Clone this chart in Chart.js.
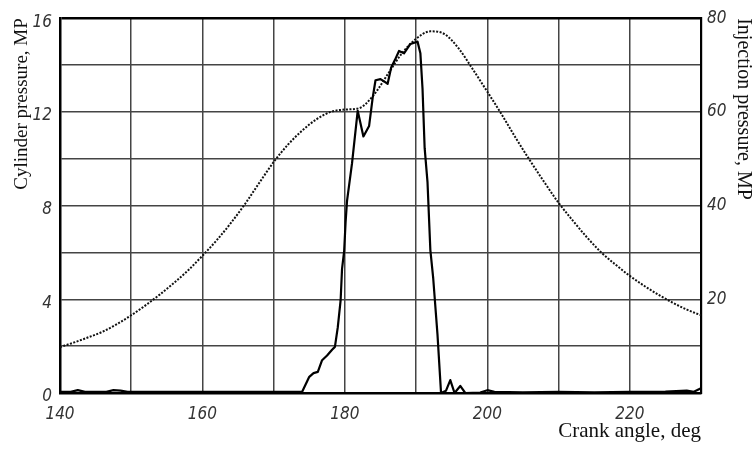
<!DOCTYPE html>
<html>
<head>
<meta charset="utf-8">
<script src="https://cdn.jsdelivr.net/npm/chart.js@4.4.1/dist/chart.umd.min.js"></script>
<style>
  html, body { margin: 0; padding: 0; background: #fff; }
  #wrap { width: 753px; height: 452px; }
</style>
</head>
<body>
<div id="wrap"><canvas id="myChart" width="753" height="452"></canvas></div>
<script>
// injection pressure (dotted curve, right axis)
const injAngle = [140, 142, 144, 146, 148, 150, 152, 154, 156, 158, 160, 162, 164, 166, 168, 170,
    172, 174, 176, 178, 180, 182, 184, 186, 188, 190, 192, 194, 196, 198, 200, 202, 204, 206,
    208, 210, 212, 214, 216, 218, 220, 222, 224, 226, 228, 230]
const injPressure = [9.8, 10.8, 11.9, 13.1, 14.7, 16.6, 18.7, 21.0, 23.5, 26.2, 29.3, 32.6, 36.3, 40.4, 44.9, 49.3,
    53.0, 56.0, 58.4, 60.0, 60.5, 60.8, 63.5, 68.0, 72.5, 75.6, 77.2, 76.6, 73.5, 69.0, 64.3, 59.5, 54.4, 49.6,
    45.0, 40.6, 36.8, 33.2, 30.0, 27.4, 25.0, 22.9, 21.0, 19.3, 17.8, 16.6]

// cylinder pressure (solid curve, left axis)
const cylAngle = [140, 141.5, 142.5, 143.5, 146.5, 147.5, 148.5, 149.5, 174.0, 175.0, 175.6, 176.2, 176.8,
    177.5, 178.2, 178.6, 179.0, 179.4, 179.6, 179.9, 180.1, 180.3, 181.0, 181.8, 182.6, 183.4, 183.9,
    184.3, 185.0, 185.5, 186.0, 186.5, 187.0, 187.6, 188.3, 189.2, 190.2, 190.6, 190.9, 191.2, 191.6,
    192.0, 192.4, 193.0, 193.5, 194.2, 194.8, 195.4, 196.2, 196.9, 199.0, 200.0, 201.0, 205, 210,
    215, 220, 225, 228, 229, 230]
const cylPressure = [0.05, 0.05, 0.12, 0.05, 0.05, 0.12, 0.1, 0.05, 0.05, 0.69, 0.85, 0.9, 1.4,
    1.6, 1.85, 1.97, 2.8, 3.95, 5.3, 6.07, 7.3, 8.2, 9.8, 12.05, 10.95, 11.4, 12.6,
    13.35, 13.4, 13.3, 13.2, 13.9, 14.2, 14.6, 14.5, 14.9, 15.0, 14.5, 13.0, 10.45, 9.0,
    6.1, 4.9, 2.5, 0.0, 0.1, 0.55, 0.0, 0.3, 0.0, 0.02, 0.12, 0.05, 0.03, 0.05,
    0.03, 0.05, 0.06, 0.1, 0.05, 0.2]

const angleLabels = [140, 160, 180, 200, 220]
const leftLabels = [0, 4, 8, 12, 16]
const rightLabels = [20, 40, 60, 80]

const tickFont = { family: "'Liberation Sans Narrow', 'DejaVu Sans Condensed', 'Liberation Sans', sans-serif", size: 17, style: 'italic' }
const titleFont = (size) => ({ family: "'Liberation Serif', 'DejaVu Serif', serif", size: size, lineHeight: 1 })

const toPoints = (xs, ys) => xs.map((x, i) => ({ x: x, y: ys[i] }))

const ctx = document.getElementById('myChart')
const myChart = new Chart(ctx, {
    type: 'line',
    data: {
        datasets: [{
            label: 'Cylinder pressure',
            data: toPoints(cylAngle, cylPressure),
            yAxisID: 'y',
            borderColor: '#000',
            borderWidth: 2.2,
            borderJoinStyle: 'round',
            pointRadius: 0,
            tension: 0
        },
        {
            label: 'Injection pressure',
            data: toPoints(injAngle, injPressure),
            yAxisID: 'y2',
            borderColor: '#111',
            borderWidth: 2,
            borderDash: [2, 1.5],
            pointRadius: 0,
            cubicInterpolationMode: 'monotone'
        }]
    },
    options: {
        responsive: false,
        animation: false,
        layout: { padding: { top: 16, left: 0, right: 0, bottom: 0 } },
        plugins: {
            legend: { display: false },
            tooltip: { enabled: false }
        },
        scales: {
            x: {
                type: 'linear',
                min: 140,
                max: 230,
                afterFit: (scale) => { scale.height = 59 },
                border: { display: true, color: '#000', width: 2.5 },
                grid: { color: '#444', lineWidth: 1.5, drawTicks: false },
                ticks: {
                    stepSize: 10,
                    padding: 11,
                    color: '#333',
                    font: tickFont,
                    maxRotation: 0,
                    callback: (v) => angleLabels.includes(v) ? String(v) : ''
                },
                title: {
                    display: true,
                    text: 'Crank angle, deg',
                    align: 'end',
                    color: '#111',
                    font: titleFont(21),
                    padding: { top: 0, bottom: 10 }
                }
            },
            y: {
                position: 'left',
                min: 0,
                max: 16,
                afterFit: (scale) => { scale.width = 60 },
                border: { display: true, color: '#000', width: 2.5 },
                grid: {
                    drawTicks: false,
                    color: (c) => c.tick && c.tick.value === 16 ? '#000' : '#444',
                    lineWidth: (c) => c.tick && c.tick.value === 16 ? 2.5 : 1.5
                },
                ticks: {
                    stepSize: 2,
                    padding: 8,
                    labelOffset: 4,
                    color: '#333',
                    font: tickFont,
                    callback: (v) => leftLabels.includes(v) ? String(v) : ''
                },
                title: {
                    display: true,
                    text: 'Cylinder pressure, MP',
                    align: 'end',
                    color: '#111',
                    font: titleFont(19),
                    padding: { top: 13, bottom: 0 }
                }
            },
            y2: {
                position: 'right',
                min: 0,
                max: 80,
                afterFit: (scale) => { scale.width = 52 },
                border: { display: true, color: '#000', width: 2.2 },
                grid: { drawOnChartArea: false, drawTicks: false },
                ticks: {
                    stepSize: 20,
                    padding: 6,
                    color: '#333',
                    font: tickFont,
                    callback: (v) => rightLabels.includes(v) ? String(v) : ''
                },
                title: {
                    display: true,
                    text: 'Injection pressure, MP',
                    align: 'end',
                    color: '#111',
                    font: titleFont(20),
                    padding: { top: 0, bottom: 0 }
                }
            }
        }
    }
})
</script>
</body>
</html>
